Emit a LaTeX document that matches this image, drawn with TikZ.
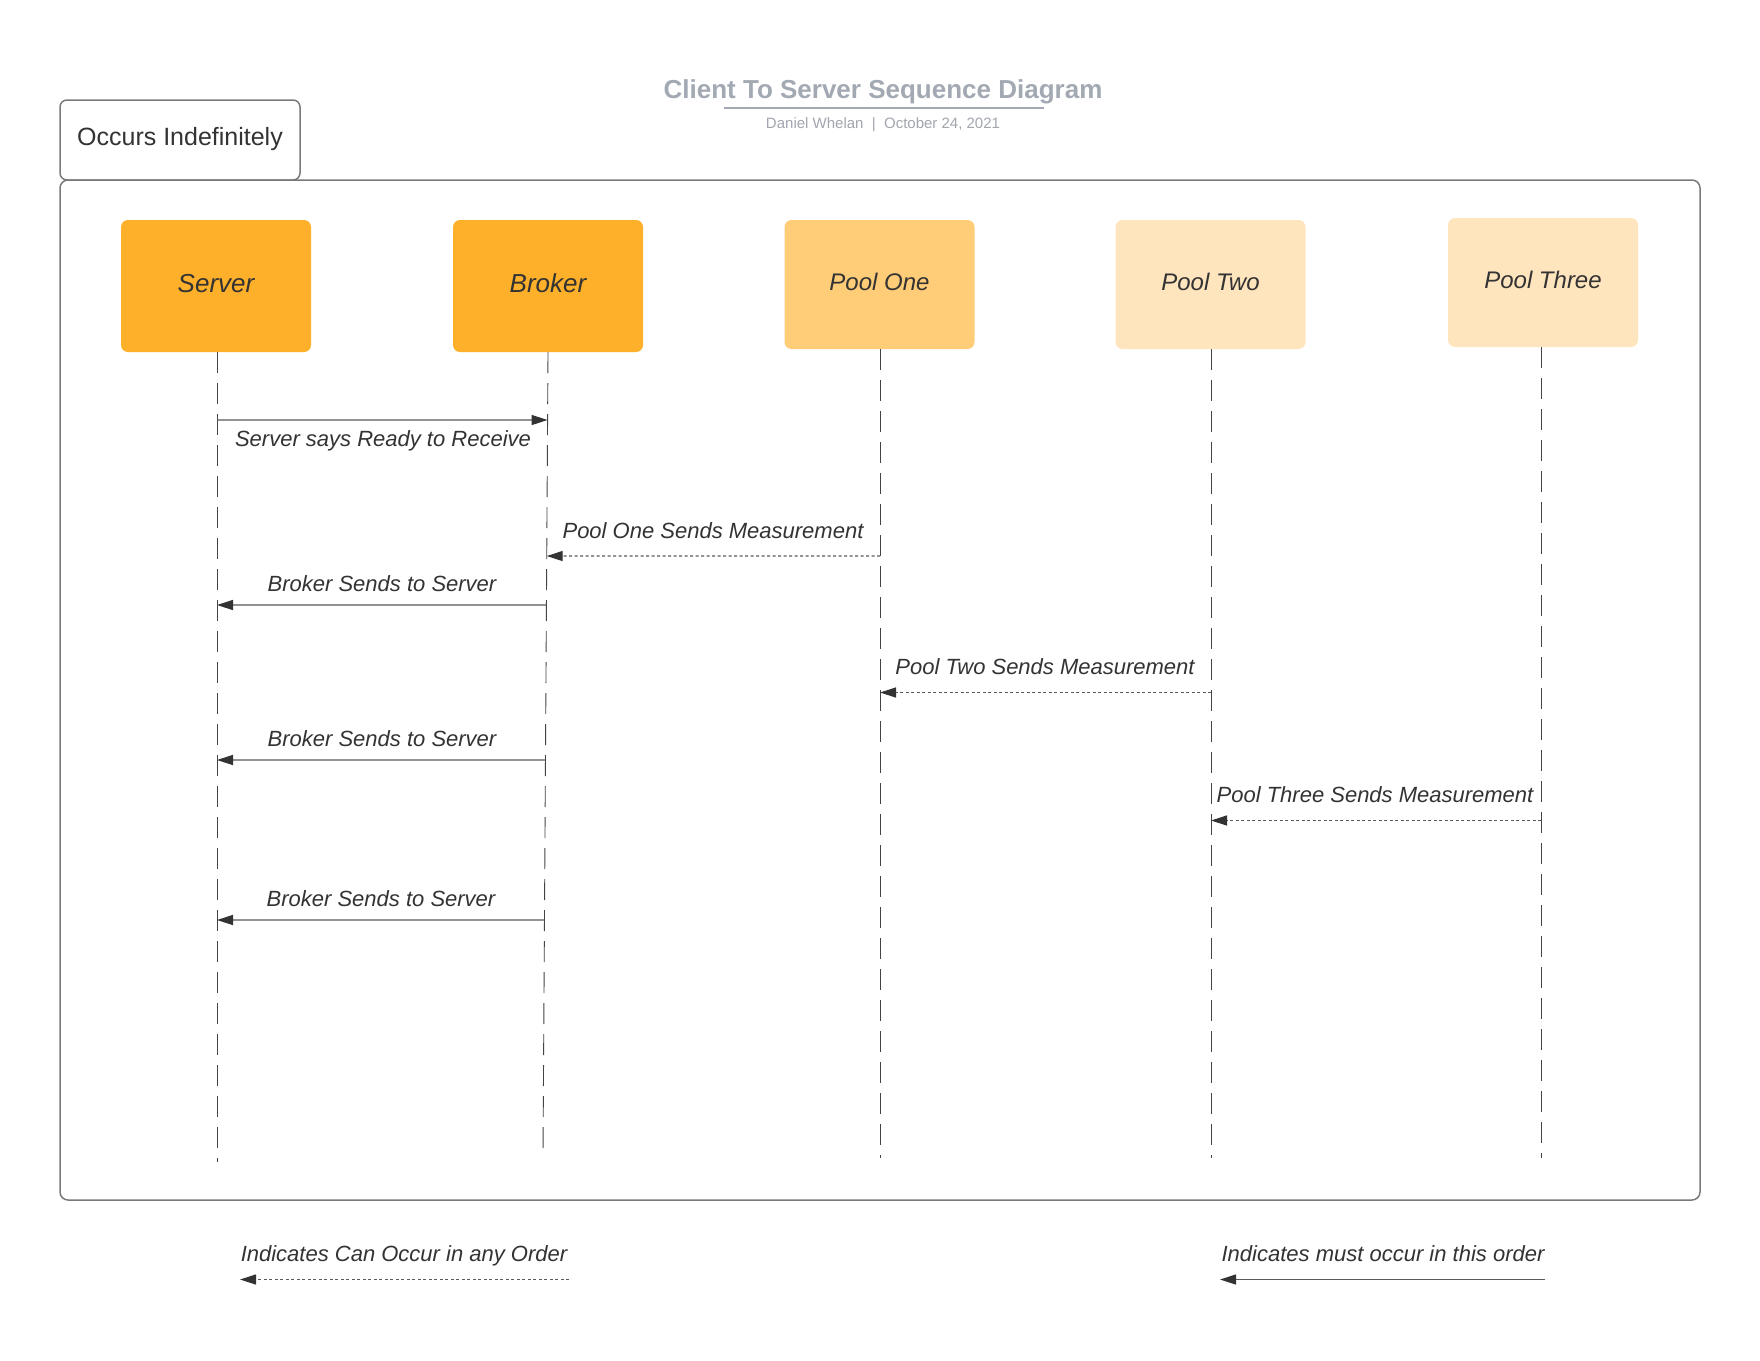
\documentclass[tikz,border=0pt]{standalone}
\usepackage{fontspec}
\setmainfont{Liberation Sans}
\usetikzlibrary{arrows.meta,calc}
\definecolor{orangeA}{HTML}{FFB02B}
\definecolor{orangeB}{HTML}{FFCC78}
\definecolor{orangeC}{HTML}{FFE5BE}
\definecolor{txt}{HTML}{333333}
\definecolor{titlegray}{HTML}{A3A9B3}
\definecolor{subgray}{HTML}{A2A6AE}
\definecolor{framegray}{HTML}{7A7A7A}
\definecolor{linegray}{HTML}{5A5A5A}
\definecolor{lifegray}{HTML}{444444}
\begin{document}
\begin{tikzpicture}[x=1pt,y=-1pt,
  actor/.style={rounded corners=7pt, minimum width=190pt, inner sep=0pt, text=txt},
  bigname/.style={font=\fontsize{26}{30}\selectfont\itshape, text height=18.7pt, text depth=5.9pt},
  poolname/.style={font=\fontsize{24}{28}\selectfont\itshape, text height=17.2pt, text depth=5.1pt},
  lifeline/.style={draw=lifegray, line width=0.9pt, dash pattern=on 21pt off 10pt},
  msg/.style={draw=linegray, line width=1.3pt, -{Triangle[length=16pt,width=10pt,color=txt]}},
  async/.style={msg, dash pattern=on 3pt off 2.5pt},
  plain/.style={inner sep=0pt, text depth=0pt},
  lbl/.style={plain, text height=15.75pt, text=txt, font=\fontsize{22}{26}\selectfont\itshape}
]
\useasboundingbox (0,0) rectangle (1760,1360);
\fill[white] (0,0) rectangle (1760,1360);

% title
\node[plain, text height=18.6pt, text=titlegray, font=\fontsize{26}{30}\selectfont\bfseries] (title) at (883,89) {Client To Server Sequence Diagram};
\coordinate (ulA) at (724,108);
\coordinate (ulB) at (1044,108);
\draw[titlegray, line width=1.6pt] (ulA) -- (ulB);
\node[plain, text height=10.7pt, text=subgray, font=\fontsize{15}{18}\selectfont] (sub) at (883,123) {Daniel Whelan\ \ |\ \ October 24, 2021};

% frame
\draw[framegray, line width=1.5pt, rounded corners=8pt] (60,180) rectangle (1700,1200);
\node[draw=framegray, line width=1.5pt, rounded corners=7pt, minimum width=240pt, minimum height=80pt, inner sep=0pt] (occbox) at (180,140) {};
\node[plain, text height=17.9pt, text=txt, font=\fontsize{25}{30}\selectfont] (occ) at (180,137) {Occurs Indefinitely};

% participants
\node[actor, bigname, fill=orangeA, minimum height=132pt] (server) at (216,286) {Server};
\node[actor, bigname, fill=orangeA, minimum height=132pt] (broker) at (548,286) {Broker};
\node[actor, poolname, fill=orangeB, minimum height=129pt] (p1) at (879.5,284.5) {Pool One};
\node[actor, poolname, fill=orangeC, minimum height=129pt] (p2) at (1210.5,284.5) {Pool Two};
\node[actor, poolname, fill=orangeC, minimum height=129pt] (p3) at (1543,282.5) {Pool Three};

% lifelines
\coordinate (sE) at (217,1162);
\coordinate (bE) at (543,1154);
\coordinate (p1E) at (880,1158);
\coordinate (p2E) at (1211,1158);
\coordinate (p3E) at (1541,1158);
\coordinate (sT) at (217,352);
\coordinate (bT) at (548,352);
\coordinate (p1T) at (880,349);
\coordinate (p2T) at (1211,349);
\coordinate (p3T) at (1541,347);
\draw[lifeline] (sT) -- (sE);
\draw[lifeline] (bT) -- (bE);
\draw[lifeline] (p1T) -- (p1E);
\draw[lifeline] (p2T) -- (p2E);
\draw[lifeline] (p3T) -- (p3E);

% y levels
\coordinate (y1) at (0,420);
\coordinate (y2) at (0,556);
\coordinate (y3) at (0,605);
\coordinate (y4) at (0,692.5);
\coordinate (y5) at (0,760);
\coordinate (y6) at (0,820.5);
\coordinate (y7) at (0,920);

% message end points
\coordinate (s1) at (sT |- y1);
\coordinate (b1) at ($(bT)!0.0848!(bE)$);
\coordinate (b2) at ($(bT)!0.2544!(bE)$);
\coordinate (p1m2) at (p1T |- y2);
\coordinate (b3) at ($(bT)!0.3155!(bE)$);
\coordinate (s3) at (sT |- y3);
\coordinate (p2m4) at (p2T |- y4);
\coordinate (p1m4) at (p1T |- y4);
\coordinate (b5) at ($(bT)!0.5087!(bE)$);
\coordinate (s5) at (sT |- y5);
\coordinate (p3m6) at (p3T |- y6);
\coordinate (p2m6) at (p2T |- y6);
\coordinate (b7) at ($(bT)!0.7082!(bE)$);
\coordinate (s7) at (sT |- y7);

% messages
\draw[msg] (s1) -- (b1);
\node[lbl] (l1) at (383,439) {Server says Ready to Receive};
\draw[async] (p1m2) -- (b2);
\node[lbl] (l2) at (713,531) {Pool One Sends Measurement};
\draw[msg] (b3) -- (s3);
\node[lbl] (l3) at (382,584) {Broker Sends to Server};
\draw[async] (p2m4) -- (p1m4);
\node[lbl] (l4) at (1045,667) {Pool Two Sends Measurement};
\draw[msg] (b5) -- (s5);
\node[lbl] (l5) at (382,738.5) {Broker Sends to Server};
\draw[async] (p3m6) -- (p2m6);
\node[lbl] (l6) at (1375,795) {Pool Three Sends Measurement};
\draw[msg] (b7) -- (s7);
\node[lbl] (l7) at (381,899) {Broker Sends to Server};

% legend
\node[lbl] (leg1) at (404,1254) {Indicates Can Occur in any Order};
\coordinate (la1) at (569,1279.5);
\coordinate (la2) at (240,1279.5);
\draw[async] (la1) -- (la2);
\node[lbl] (leg2) at (1383,1254) {Indicates must occur in this order};
\coordinate (lb1) at (1545,1279.5);
\coordinate (lb2) at (1220,1279.5);
\draw[msg] (lb1) -- (lb2);
\end{tikzpicture}
\end{document}
